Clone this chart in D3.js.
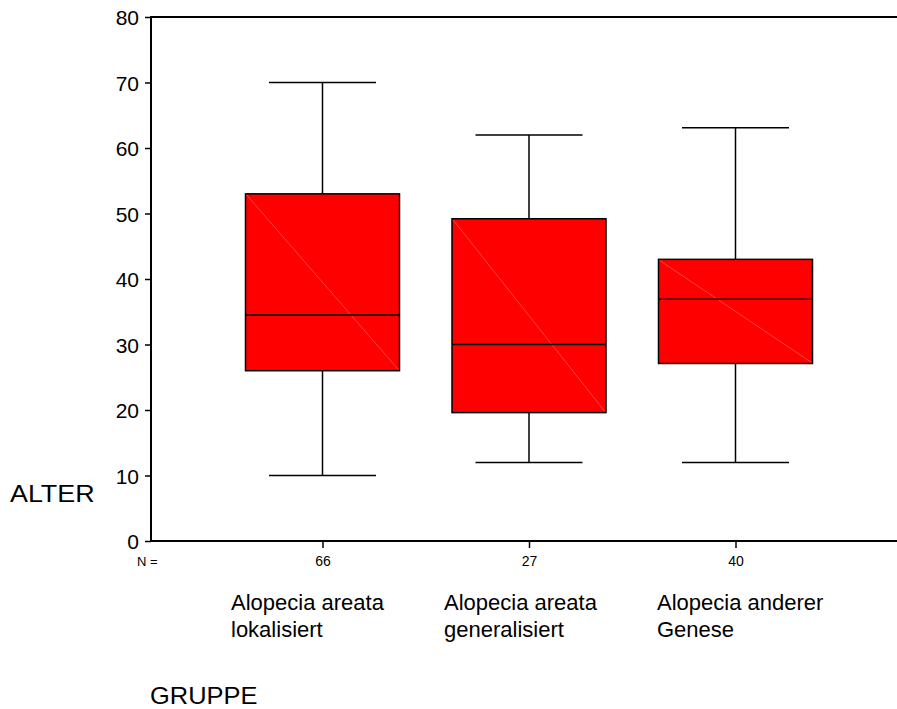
<!DOCTYPE html>
<html>
<head>
<meta charset="utf-8">
<title>ALTER nach GRUPPE</title>
<script src="https://cdn.jsdelivr.net/npm/d3@7/dist/d3.min.js"></script>
<style>
    body { margin: 0; background: #fff; }
    svg text { font-family: 'Liberation Sans', Arial, sans-serif; fill: #000; }
</style>
</head>
<body>
<div id="chart"></div>
<script>
    // data
    var groups = ['Alopecia areata lokalisiert', 'Alopecia areata generalisiert', 'Alopecia anderer Genese'];
    var groupLines = [['Alopecia areata', 'lokalisiert'], ['Alopecia areata', 'generalisiert'], ['Alopecia anderer', 'Genese']];
    var counts = [66, 27, 40];
    var whiskerLow = [10, 12, 12];
    var q1 = [26, 19.6, 27.1];
    var median = [34.5, 30, 36.9];
    var q3 = [53, 49.2, 43];
    var whiskerHigh = [70, 62, 63.1];
    var yTicks = [0, 10, 20, 30, 40, 50, 60, 70, 80];

    var width = 897, height = 709;
    var plotLeft = 151, plotTop = 17, plotBottom = 541, plotRight = 900;

    var svg = d3.select('#chart').append('svg')
        .attr('width', width)
        .attr('height', height);

    var y = d3.scaleLinear().domain([0, 80]).range([plotBottom, plotTop]);
    var x = d3.scalePoint().domain(groups).range([322.5, 735.5]);
    var labelX = d3.scalePoint().domain(groups).range([231, 657]);

    var boxW = 154, capW = 107;

    var data = groups.map(function(g, i) {
        return { g: g, n: counts[i], lo: whiskerLow[i], q1: q1[i], med: median[i], q3: q3[i], hi: whiskerHigh[i], lines: groupLines[i] };
    });

    // y axis
    var yAxis = d3.axisLeft(y).tickValues(yTicks).tickSize(6).tickPadding(6);
    var gy = svg.append('g').attr('transform', 'translate(' + plotLeft + ',0)').call(yAxis);
    gy.select('.domain').remove();
    gy.selectAll('line').attr('stroke', '#000').attr('stroke-width', 1.5);
    gy.selectAll('text').style('font-size', '21px').attr('dy', '0.36em');

    // x axis ticks with N values
    var xAxis = d3.axisBottom(x).tickSize(7).tickFormat(function(d, i) { return counts[i]; }).tickPadding(8);
    var gx = svg.append('g').attr('transform', 'translate(0,' + plotBottom + ')').call(xAxis);
    gx.select('.domain').remove();
    gx.selectAll('line').attr('stroke', '#000').attr('stroke-width', 1.5);
    gx.selectAll('text').style('font-size', '14px');

    // frame (left, top, bottom)
    svg.append('path')
        .attr('d', 'M' + plotRight + ',' + plotTop + 'H' + plotLeft + 'V' + plotBottom + 'H' + plotRight)
        .attr('fill', 'none').attr('stroke', '#000').attr('stroke-width', 2);

    var box = svg.selectAll('.box').data(data).enter().append('g').attr('class', 'box');

    // whiskers
    box.append('line')
        .attr('x1', function(d) { return x(d.g); }).attr('x2', function(d) { return x(d.g); })
        .attr('y1', function(d) { return y(d.hi); }).attr('y2', function(d) { return y(d.q3); })
        .attr('stroke', '#000').attr('stroke-width', 1.5);
    box.append('line')
        .attr('x1', function(d) { return x(d.g); }).attr('x2', function(d) { return x(d.g); })
        .attr('y1', function(d) { return y(d.q1); }).attr('y2', function(d) { return y(d.lo); })
        .attr('stroke', '#000').attr('stroke-width', 1.5);
    box.selectAll('.cap').data(function(d) { return [[d.g, d.hi], [d.g, d.lo]]; }).enter().append('line')
        .attr('class', 'cap')
        .attr('x1', function(d) { return x(d[0]) - capW / 2; })
        .attr('x2', function(d) { return x(d[0]) + capW / 2; })
        .attr('y1', function(d) { return y(d[1]); }).attr('y2', function(d) { return y(d[1]); })
        .attr('stroke', '#000').attr('stroke-width', 1.5);

    // boxes
    box.append('rect')
        .attr('x', function(d) { return x(d.g) - boxW / 2; })
        .attr('y', function(d) { return y(d.q3); })
        .attr('width', boxW)
        .attr('height', function(d) { return y(d.q1) - y(d.q3); })
        .attr('fill', '#ff0000').attr('stroke', '#000').attr('stroke-width', 1.5);
    // faint diagonal
    box.append('line')
        .attr('x1', function(d) { return x(d.g) - boxW / 2 + 1; })
        .attr('y1', function(d) { return y(d.q3) + 1; })
        .attr('x2', function(d) { return x(d.g) + boxW / 2 - 1; })
        .attr('y2', function(d) { return y(d.q1) - 1; })
        .attr('stroke', '#ff7070').attr('stroke-width', 0.6);
    // median
    box.append('line')
        .attr('x1', function(d) { return x(d.g) - boxW / 2; })
        .attr('x2', function(d) { return x(d.g) + boxW / 2; })
        .attr('y1', function(d) { return y(d.med); }).attr('y2', function(d) { return y(d.med); })
        .attr('stroke', '#000').attr('stroke-width', 1.5);

    // category labels
    svg.selectAll('.cat').data(data).enter().append('text')
        .attr('class', 'cat')
        .attr('x', function(d) { return labelX(d.g); })
        .attr('y', 610)
        .style('font-size', '22px')
        .selectAll('tspan').data(function(d) { return d.lines; }).enter().append('tspan')
        .attr('x', function() { return this.parentNode.getAttribute('x'); })
        .attr('dy', function(d, i) { return i ? 27 : 0; })
        .text(function(d) { return d; });

    svg.append('text').attr('x', 137).attr('y', 566).style('font-size', '13px').text('N =');
    svg.append('text').attr('transform', 'translate(10,502) scale(1.12,1)').style('font-size', '24px').text('ALTER');
    svg.append('text').attr('transform', 'translate(150,704) scale(1.06,1)').style('font-size', '24px').text('GRUPPE');
</script>
</body>
</html>
